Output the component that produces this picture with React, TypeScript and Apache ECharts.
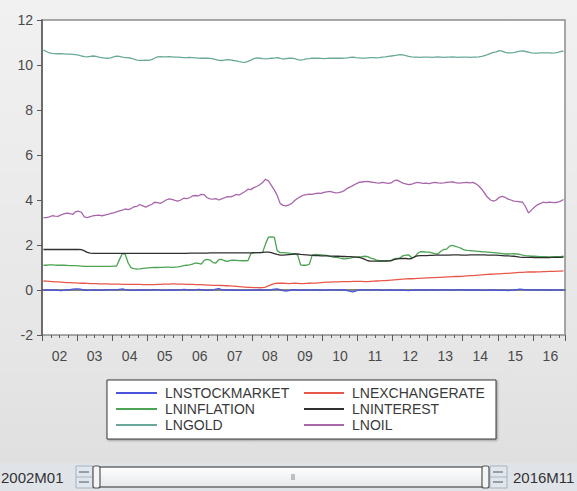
import React, { useEffect, useRef } from "react";
import * as echarts from "echarts";

// 2002M01 .. 2016M11 (179 monthly observations), one row per year
const START_LABEL = "2002M01";
const END_LABEL = "2016M11";
const YEAR_LABELS = ["02", "03", "04", "05", "06", "07", "08", "09", "10", "11", "12", "13", "14", "15", "16"];
const SERIES_NAMES = ["LNSTOCKMARKET", "LNEXCHANGERATE", "LNINFLATION", "LNINTEREST", "LNGOLD", "LNOIL"];

const LNSTOCKMARKET = [
  -0.02, 0.0, 0.01, -0.01, 0.0, -0.02, -0.03, -0.02, 0.0, 0.02, 0.04, 0.05,
  0.05, 0.03, 0.0, -0.02, -0.01, 0.01, 0.0, -0.01, -0.02, 0.0, 0.01, 0.02,
  0.02, 0.01, 0.03, 0.05, 0.02, 0.0, -0.01, -0.02, -0.01, 0.0, 0.01, 0.0,
  -0.01, 0.0, 0.02, 0.01, -0.01, -0.02, -0.01, 0.0, 0.01, 0.0, -0.01, 0.01,
  0.03, 0.02, 0.0, -0.01, 0.01, 0.03, 0.02, 0.0, -0.02, -0.01, 0.0, 0.04,
  0.06, 0.02, -0.01, 0.0, 0.01, 0.0, -0.01, -0.02, -0.02, -0.02, -0.01, 0.0,
  -0.01, 0.0, 0.01, 0.0, -0.01, 0.0, 0.02, 0.04, 0.05, 0.02, -0.03, -0.05,
  -0.03, 0.0, 0.02, 0.0, -0.02, 0.0, 0.01, -0.01, 0.0, 0.02, 0.0, -0.02,
  -0.01, 0.0, 0.02, 0.01, -0.01, 0.0, 0.02, 0.0, -0.03, -0.06, -0.08, -0.04,
  0.0, 0.02, 0.01, -0.01, 0.0, 0.02, 0.01, 0.0, -0.02, -0.01, 0.01, 0.0,
  -0.01, -0.02, -0.01, 0.0, -0.02, -0.03, -0.01, 0.0, 0.01, 0.0, -0.01, 0.0,
  0.01, 0.02, 0.0, -0.01, 0.0, 0.01, 0.02, 0.01, 0.0, 0.01, 0.02, 0.01,
  0.0, 0.01, 0.0, 0.0, 0.01, 0.0, -0.01, -0.02, -0.01, 0.0, 0.0, -0.01,
  -0.02, -0.01, -0.02, -0.03, -0.01, 0.0, 0.02, 0.04, 0.03, 0.01, 0.02, 0.01,
  0.01, 0.0, 0.01, 0.02, 0.01, 0.0, 0.0, 0.01, 0.01, 0.0, 0.0,
];

const LNEXCHANGERATE = [
  0.4, 0.39, 0.38, 0.37, 0.36, 0.36, 0.35, 0.34, 0.33, 0.33, 0.32, 0.32,
  0.31, 0.3, 0.3, 0.29, 0.28, 0.28, 0.28, 0.27, 0.27, 0.27, 0.27, 0.26,
  0.26, 0.26, 0.26, 0.25, 0.25, 0.25, 0.25, 0.25, 0.25, 0.25, 0.24, 0.24,
  0.24, 0.24, 0.24, 0.25, 0.25, 0.26, 0.26, 0.26, 0.27, 0.27, 0.26, 0.26,
  0.26, 0.25, 0.25, 0.25, 0.24, 0.24, 0.24, 0.23, 0.22, 0.22, 0.21, 0.21,
  0.21, 0.2, 0.19, 0.19, 0.18, 0.17, 0.16, 0.15, 0.14, 0.13, 0.12, 0.12,
  0.11, 0.11, 0.1, 0.11, 0.13, 0.18, 0.24, 0.28, 0.3, 0.31, 0.3, 0.29,
  0.28, 0.29, 0.3, 0.29, 0.28, 0.28, 0.29, 0.3, 0.31, 0.31, 0.32, 0.33,
  0.34, 0.35, 0.35, 0.36, 0.36, 0.36, 0.37, 0.37, 0.37, 0.37, 0.38, 0.38,
  0.38, 0.38, 0.37, 0.37, 0.38, 0.39, 0.4, 0.41, 0.42, 0.42, 0.43, 0.44,
  0.45, 0.46, 0.47, 0.48, 0.49, 0.5, 0.5, 0.51, 0.52, 0.52, 0.53, 0.54,
  0.54, 0.55, 0.55, 0.56, 0.56, 0.57, 0.58, 0.58, 0.59, 0.6, 0.6, 0.61,
  0.62, 0.63, 0.64, 0.64, 0.65, 0.66, 0.67, 0.68, 0.69, 0.7, 0.71, 0.72,
  0.72, 0.73, 0.74, 0.74, 0.75, 0.76, 0.77, 0.78, 0.78, 0.79, 0.8, 0.8,
  0.8, 0.81, 0.81, 0.82, 0.82, 0.83, 0.83, 0.83, 0.84, 0.84, 0.85,
];

const LNINFLATION = [
  1.1, 1.1, 1.12, 1.12, 1.11, 1.1, 1.1, 1.1, 1.09, 1.08, 1.08, 1.08,
  1.07, 1.06, 1.05, 1.05, 1.05, 1.05, 1.05, 1.05, 1.05, 1.05, 1.05, 1.05,
  1.06, 1.06, 1.35, 1.62, 1.58, 1.2, 0.98, 0.95, 0.93, 0.94, 0.96, 0.97,
  0.98, 0.99, 1.0, 1.0, 1.01, 1.01, 1.02, 1.02, 1.01, 1.02, 1.03, 1.05,
  1.08, 1.1, 1.12, 1.15, 1.2, 1.18, 1.15, 1.32, 1.36, 1.33, 1.22, 1.2,
  1.35, 1.36, 1.3, 1.27, 1.32, 1.33, 1.32, 1.31, 1.3, 1.3, 1.31, 1.62,
  1.65, 1.66, 1.66, 1.66, 2.05, 2.35, 2.36, 2.35, 1.75, 1.66, 1.66, 1.65,
  1.64, 1.62, 1.62, 1.55, 1.12, 1.1, 1.1, 1.15, 1.55, 1.58, 1.57, 1.56,
  1.55, 1.54, 1.5, 1.46, 1.45, 1.44, 1.4, 1.38, 1.4, 1.42, 1.45, 1.46,
  1.47, 1.48, 1.5, 1.48, 1.42, 1.38, 1.33, 1.3, 1.3, 1.3, 1.3, 1.32,
  1.38, 1.4, 1.42, 1.52, 1.55, 1.56, 1.44, 1.45, 1.62, 1.7, 1.7, 1.68,
  1.68, 1.65, 1.62, 1.6, 1.72, 1.8, 1.82, 1.95, 1.98, 1.94, 1.9, 1.85,
  1.78, 1.76, 1.75, 1.74, 1.73, 1.72, 1.7, 1.69, 1.68, 1.67, 1.66, 1.65,
  1.64, 1.62, 1.6, 1.6, 1.61, 1.62, 1.6, 1.58, 1.55, 1.53, 1.52, 1.5,
  1.5, 1.49, 1.48, 1.48, 1.48, 1.47, 1.47, 1.48, 1.48, 1.48, 1.5,
];

const LNINTEREST = [
  1.8, 1.8, 1.8, 1.8, 1.8, 1.8, 1.8, 1.8, 1.8, 1.8, 1.8, 1.8,
  1.8, 1.79, 1.74, 1.67, 1.64, 1.63, 1.63, 1.63, 1.63, 1.63, 1.63, 1.63,
  1.63, 1.63, 1.63, 1.63, 1.63, 1.63, 1.63, 1.63, 1.63, 1.63, 1.63, 1.63,
  1.63, 1.63, 1.63, 1.63, 1.63, 1.63, 1.63, 1.63, 1.63, 1.63, 1.63, 1.63,
  1.63, 1.63, 1.64, 1.64, 1.64, 1.64, 1.64, 1.64, 1.64, 1.65, 1.65, 1.65,
  1.65, 1.65, 1.65, 1.65, 1.65, 1.65, 1.65, 1.65, 1.65, 1.65, 1.65, 1.65,
  1.66, 1.66, 1.66, 1.67, 1.68, 1.68, 1.66, 1.62, 1.58, 1.55, 1.55, 1.56,
  1.57, 1.58, 1.6, 1.6, 1.58, 1.57, 1.56, 1.55, 1.54, 1.53, 1.53, 1.52,
  1.52, 1.52, 1.51, 1.51, 1.5, 1.5, 1.49, 1.49, 1.48, 1.48, 1.47, 1.46,
  1.45, 1.42, 1.36, 1.3, 1.28, 1.28, 1.28, 1.28, 1.28, 1.28, 1.29, 1.3,
  1.35, 1.38, 1.4, 1.4, 1.4, 1.38, 1.4, 1.48, 1.52, 1.53, 1.53, 1.53,
  1.54, 1.54, 1.55, 1.55, 1.55, 1.55, 1.55, 1.55, 1.56, 1.56, 1.56, 1.55,
  1.55, 1.55, 1.56, 1.56, 1.56, 1.56, 1.56, 1.56, 1.55, 1.55, 1.55, 1.55,
  1.54, 1.53, 1.52, 1.52, 1.51, 1.5, 1.48, 1.46, 1.45, 1.45, 1.45, 1.45,
  1.44, 1.44, 1.44, 1.44, 1.44, 1.44, 1.45, 1.45, 1.45, 1.45, 1.46,
];

const LNGOLD = [
  10.66, 10.6, 10.54, 10.52, 10.51, 10.5, 10.5, 10.49, 10.48, 10.48, 10.47, 10.46,
  10.44, 10.4, 10.37, 10.36, 10.38, 10.4, 10.38, 10.35, 10.33, 10.31, 10.3, 10.32,
  10.36, 10.39, 10.38, 10.35, 10.33, 10.33, 10.3, 10.26, 10.22, 10.21, 10.21, 10.22,
  10.21, 10.24, 10.3, 10.36, 10.37, 10.36, 10.36, 10.37, 10.36, 10.35, 10.35, 10.34,
  10.33, 10.33, 10.34, 10.33, 10.32, 10.31, 10.3, 10.3, 10.3, 10.29, 10.27, 10.24,
  10.21, 10.2, 10.22, 10.24, 10.23, 10.2, 10.18, 10.15, 10.13, 10.12, 10.16, 10.22,
  10.28, 10.32, 10.3, 10.28, 10.27, 10.28, 10.3, 10.31, 10.33, 10.3, 10.26, 10.28,
  10.3, 10.31, 10.28, 10.24, 10.22, 10.24, 10.27, 10.28, 10.3, 10.31, 10.3, 10.29,
  10.28, 10.29, 10.3, 10.31, 10.3, 10.3, 10.3, 10.31, 10.32, 10.34, 10.35, 10.33,
  10.32, 10.31, 10.31, 10.32, 10.33, 10.33, 10.32, 10.33, 10.35, 10.36, 10.38, 10.4,
  10.42, 10.44, 10.46, 10.45, 10.42, 10.38, 10.36, 10.35, 10.35, 10.34, 10.35, 10.35,
  10.35, 10.34, 10.35, 10.36, 10.35, 10.34, 10.35, 10.35, 10.36, 10.35, 10.34, 10.35,
  10.35, 10.35, 10.34, 10.35, 10.35, 10.36, 10.38, 10.42, 10.46, 10.52, 10.56, 10.58,
  10.64, 10.62, 10.56, 10.54, 10.54, 10.55, 10.58, 10.62, 10.63, 10.6, 10.57, 10.54,
  10.53, 10.53, 10.54, 10.54, 10.54, 10.54, 10.53, 10.54, 10.56, 10.6, 10.62,
];

const LNOIL = [
  3.22, 3.22, 3.25, 3.3, 3.28, 3.27, 3.34, 3.38, 3.42, 3.4, 3.36, 3.48,
  3.5, 3.45, 3.25, 3.22, 3.26, 3.3, 3.32, 3.33, 3.3, 3.33, 3.36, 3.4,
  3.43, 3.47, 3.52, 3.55, 3.6, 3.57, 3.62, 3.7, 3.72, 3.8, 3.74, 3.68,
  3.75, 3.8, 3.9, 3.88, 3.85, 3.92, 4.0, 4.05, 4.03, 3.98, 3.95, 4.0,
  4.08, 4.06, 4.1, 4.18, 4.2, 4.18, 4.25, 4.24, 4.1, 4.05, 4.04, 4.06,
  4.0, 4.05, 4.1, 4.15, 4.14, 4.18, 4.25, 4.22, 4.3, 4.38, 4.48, 4.46,
  4.55, 4.6, 4.68, 4.78, 4.92, 4.85, 4.65, 4.45, 4.2, 3.85, 3.76, 3.74,
  3.78, 3.85, 3.98, 4.08, 4.15, 4.22, 4.24, 4.26, 4.25, 4.28, 4.3, 4.29,
  4.34, 4.36, 4.38, 4.35, 4.32, 4.33, 4.36, 4.42, 4.52, 4.58, 4.65, 4.72,
  4.78, 4.8, 4.82, 4.83, 4.8, 4.78, 4.76, 4.75, 4.78, 4.76, 4.74, 4.76,
  4.86, 4.88, 4.82, 4.75, 4.72, 4.68, 4.7, 4.75, 4.78, 4.76, 4.74, 4.75,
  4.73, 4.76, 4.78, 4.76, 4.75, 4.76, 4.78, 4.79, 4.8, 4.77, 4.75, 4.76,
  4.77, 4.78, 4.76, 4.78, 4.72, 4.62, 4.48, 4.3, 4.12, 4.0, 3.95, 4.0,
  4.12, 4.16, 4.12, 4.04, 4.0, 3.95, 3.94, 3.92, 3.9, 3.7, 3.42, 3.55,
  3.68, 3.78, 3.84, 3.9, 3.88, 3.9, 3.89, 3.88, 3.9, 3.95, 4.02,
];

const SERIES_DATA = [LNSTOCKMARKET, LNEXCHANGERATE, LNINFLATION, LNINTEREST, LNGOLD, LNOIL];
const SERIES_COLORS = ["#4b55da", "#e8584a", "#4ba353", "#303030", "#6aa99a", "#a767a9"];

const N_OBS = LNOIL.length;
const FONT = "Liberation Sans, Arial, sans-serif";

export default function App() {
  const ref = useRef<HTMLDivElement>(null);

  useEffect(() => {
    if (!ref.current) return;
    const chart = echarts.init(ref.current, undefined, { renderer: "svg" });

    const series = SERIES_NAMES.map((name, k) => ({
      name,
      type: "line",
      xAxisIndex: 0,
      yAxisIndex: 0,
      data: SERIES_DATA[k].map((v, i) => [i + 0.5, v]),
      showSymbol: false,
      symbol: "none",
      lineStyle: { width: 1.3, color: SERIES_COLORS[k] },
      itemStyle: { color: SERIES_COLORS[k] },
      z: 3,
    }));

    const baseX = {
      type: "value",
      gridIndex: 0,
      position: "bottom",
      min: 0,
      max: N_OBS,
      splitLine: { show: false },
    };

    const legendText = { fontSize: 14, lineHeight: 14, color: "#3a3a3a", padding: [0, 0, 0, 3], fontFamily: FONT };

    const option = {
      animation: false,
      textStyle: { fontFamily: FONT },
      grid: {
        left: 42,
        top: 20,
        width: 523,
        height: 315,
        show: true,
        backgroundColor: "#ffffff",
        borderColor: "#8c8c8c",
        borderWidth: 1.5,
      },
      xAxis: [
        {
          ...baseX,
          interval: 6,
          axisLine: { show: true, lineStyle: { color: "#5a5a5a", width: 1.5 } },
          axisTick: { show: false },
          axisLabel: {
            show: true,
            color: "#4a4a4a",
            fontSize: 14,
            margin: 14,
            showMinLabel: true,
            showMaxLabel: true,
            formatter: (v: number) => {
              const k = (v - 6) / 12;
              return Number.isInteger(k) && k >= 0 && k < YEAR_LABELS.length ? YEAR_LABELS[k] : "";
            },
          },
        },
        {
          ...baseX,
          interval: 3,
          axisLine: { show: false },
          axisTick: { show: true, length: 3, lineStyle: { color: "#5a5a5a", width: 1 } },
          axisLabel: { show: false },
        },
        {
          ...baseX,
          interval: 12,
          axisLine: { show: false },
          axisTick: { show: true, length: 6, lineStyle: { color: "#5a5a5a", width: 1 } },
          axisLabel: { show: false },
        },
      ],
      yAxis: {
        type: "value",
        min: -2,
        max: 12,
        interval: 2,
        axisLine: { show: true, lineStyle: { color: "#5a5a5a", width: 1.5 } },
        axisTick: { show: true, length: 5, lineStyle: { color: "#5a5a5a" } },
        axisLabel: { color: "#4a4a4a", fontSize: 14, margin: 9 },
        splitLine: { show: false },
      },
      legend: [
        {
          data: [SERIES_NAMES[0], SERIES_NAMES[2], SERIES_NAMES[4]],
          orient: "vertical",
          left: 116,
          top: 386,
          padding: 0,
          itemGap: 2,
          itemWidth: 41,
          itemHeight: 2,
          icon: "rect",
          selectedMode: false,
          textStyle: legendText,
          z: 10,
        },
        {
          data: [SERIES_NAMES[1], SERIES_NAMES[3], SERIES_NAMES[5]],
          orient: "vertical",
          left: 304,
          top: 386,
          padding: 0,
          itemGap: 2,
          itemWidth: 40,
          itemHeight: 2,
          icon: "rect",
          selectedMode: false,
          textStyle: legendText,
          z: 10,
        },
      ],
      graphic: [
        {
          type: "rect",
          z: 1,
          shape: { x: 107, y: 380, width: 389, height: 59 },
          style: {
            fill: "#ffffff",
            stroke: "#3a3a3a",
            lineWidth: 1,
            shadowBlur: 2,
            shadowOffsetX: 1,
            shadowOffsetY: 1,
            shadowColor: "rgba(0,0,0,0.35)",
          },
        },
        // bottom sample-range bar
        {
          type: "rect",
          z: 1,
          shape: { x: 0, y: 463, width: 577, height: 28 },
          style: { fill: "#e0e4e9" },
        },
        {
          type: "text",
          z: 2,
          style: { text: START_LABEL, x: 1, y: 477, fill: "#333", fontSize: 15, verticalAlign: "middle", fontFamily: FONT },
        },
        {
          type: "text",
          z: 2,
          style: { text: END_LABEL, x: 513, y: 477, fill: "#333", fontSize: 15, verticalAlign: "middle", fontFamily: FONT },
        },
        // spinners
        { type: "rect", z: 2, shape: { x: 76, y: 466, width: 17, height: 22 }, style: { fill: "#dfe6ee", stroke: "#a9b2bc", lineWidth: 1 } },
        { type: "line", z: 3, shape: { x1: 79, y1: 472, x2: 89, y2: 472 }, style: { stroke: "#555", lineWidth: 1 } },
        { type: "line", z: 3, shape: { x1: 79, y1: 482, x2: 89, y2: 482 }, style: { stroke: "#555", lineWidth: 1 } },
        { type: "line", z: 3, shape: { x1: 76, y1: 477, x2: 93, y2: 477 }, style: { stroke: "#a9b2bc", lineWidth: 1 } },
        { type: "rect", z: 2, shape: { x: 490, y: 466, width: 17, height: 22 }, style: { fill: "#dfe6ee", stroke: "#a9b2bc", lineWidth: 1 } },
        { type: "line", z: 3, shape: { x1: 493, y1: 472, x2: 503, y2: 472 }, style: { stroke: "#555", lineWidth: 1 } },
        { type: "line", z: 3, shape: { x1: 493, y1: 482, x2: 503, y2: 482 }, style: { stroke: "#555", lineWidth: 1 } },
        { type: "line", z: 3, shape: { x1: 490, y1: 477, x2: 507, y2: 477 }, style: { stroke: "#a9b2bc", lineWidth: 1 } },
        // track
        {
          type: "rect",
          z: 2,
          shape: { x: 96, y: 467, width: 390, height: 20, r: 2 },
          style: {
            fill: new echarts.graphic.LinearGradient(0, 0, 0, 1, [
              { offset: 0, color: "#ffffff" },
              { offset: 1, color: "#e6e8eb" },
            ]),
            stroke: "#6a6a6a",
            lineWidth: 1.5,
          },
        },
        { type: "rect", z: 3, shape: { x: 93, y: 466, width: 7, height: 22, r: 2 }, style: { fill: "#f4f4f4", stroke: "#555", lineWidth: 1.2 } },
        { type: "rect", z: 3, shape: { x: 482, y: 466, width: 7, height: 22, r: 2 }, style: { fill: "#f4f4f4", stroke: "#555", lineWidth: 1.2 } },
        { type: "line", z: 3, shape: { x1: 292, y1: 474, x2: 292, y2: 480 }, style: { stroke: "#888", lineWidth: 1 } },
        { type: "line", z: 3, shape: { x1: 294, y1: 474, x2: 294, y2: 480 }, style: { stroke: "#888", lineWidth: 1 } },
      ],
      series,
    };

    chart.setOption(option as any);
    return () => chart.dispose();
  }, []);

  return (
    <div
      style={{
        position: "fixed",
        left: 0,
        top: 0,
        width: 577,
        height: 491,
        background: "linear-gradient(to bottom, #f1f1f1 0%, #e6e6e6 70%, #dedede 100%)",
      }}
    >
      <div ref={ref} style={{ width: 577, height: 491 }} />
    </div>
  );
}
